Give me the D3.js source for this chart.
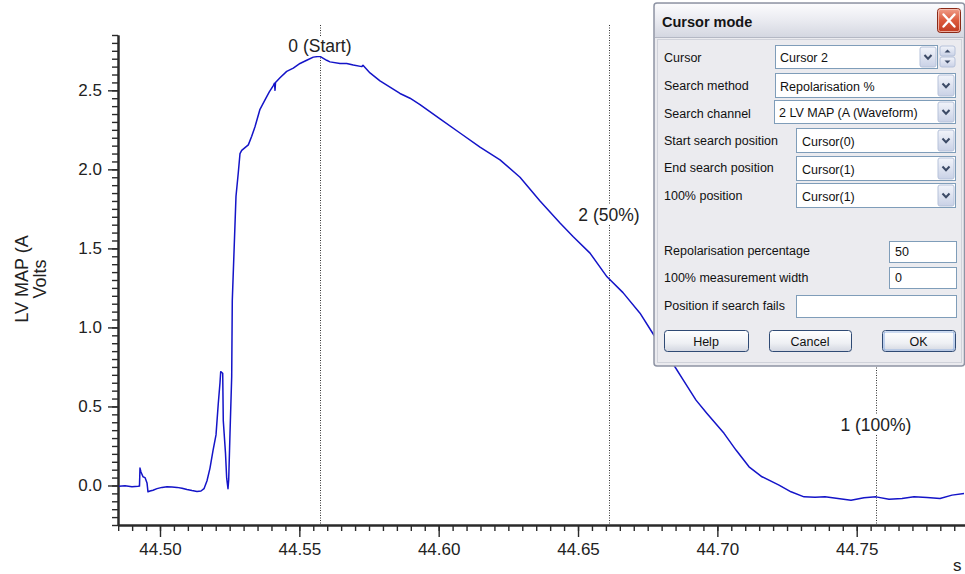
<!DOCTYPE html>
<html><head><meta charset="utf-8">
<script src="https://cdn.jsdelivr.net/npm/d3@7"></script>
<style>
html,body{margin:0;padding:0;background:#fff;}
svg{display:block;font-family:Arial,"Liberation Sans",sans-serif;}
</style></head><body>
<svg id="chart" width="965" height="574"></svg>
<script>
// ---------- data ----------
const timeValues = [
44.48493,44.48744,44.48995,44.49211,44.49264,44.49282,44.49318,44.49390,44.49462,44.49534,
44.49569,44.49641,44.49749,44.49892,44.50072,44.50251,44.50431,44.50610,44.50789,44.50969,
44.51148,44.51328,44.51471,44.51579,44.51687,44.51794,44.51902,44.52010,44.52092,44.52153,
44.52178,44.52250,44.52271,44.52350,44.52393,44.52440,44.52465,44.52512,44.52573,44.52594,
44.52727,44.52810,44.52871,44.52932,44.53169,44.53291,44.53409,44.53588,44.53768,44.53922,
44.54066,44.54109,44.54127,44.54145,44.54306,44.54547,44.54783,44.55024,44.55264,44.55501,
44.55741,44.55982,44.56100,44.56459,44.56700,44.56936,44.57238,44.57284,44.57536,44.57894,
44.58612,44.58971,44.59330,44.60048,44.60765,44.61483,44.62201,44.62918,44.63636,44.64354,
44.64820,44.65430,44.66040,44.66614,44.67224,44.67691,44.68408,44.68767,44.69234,44.69628,
44.70239,44.70669,44.71136,44.71602,44.72212,44.72643,44.73109,44.73504,44.73863,44.74329,
44.74796,44.75262,44.75693,44.76159,44.76626,44.77057,44.77523,44.77990,44.78420,44.78851];
const voltValues = [
-0.005,-0.002,-0.008,-0.005,-0.004,0.110,0.085,0.055,0.050,0.016,
-0.040,-0.035,-0.030,-0.020,-0.012,-0.008,-0.010,-0.012,-0.017,-0.025,
-0.032,-0.038,-0.035,-0.020,0.030,0.110,0.220,0.320,0.520,0.650,
0.720,0.710,0.410,0.205,0.046,-0.020,0.035,0.330,0.690,1.170,
1.830,1.980,2.100,2.120,2.155,2.210,2.270,2.380,2.440,2.490,
2.530,2.545,2.500,2.550,2.580,2.620,2.640,2.670,2.690,2.710,
2.715,2.690,2.680,2.670,2.670,2.660,2.650,2.658,2.610,2.560,
2.480,2.450,2.410,2.320,2.230,2.140,2.060,1.950,1.800,1.660,
1.575,1.470,1.320,1.220,1.090,0.960,0.770,0.670,0.540,0.456,
0.330,0.224,0.118,0.055,0.002,-0.040,-0.072,-0.075,-0.072,-0.082,
-0.093,-0.078,-0.072,-0.087,-0.082,-0.072,-0.076,-0.082,-0.061,-0.050];

const cursorNames = ["0 (Start)", "2 (50%)", "1 (100%)"];
const cursorTimes = [44.5574, 44.6611, 44.7569];

const xMajorTicks = [44.50, 44.55, 44.60, 44.65, 44.70, 44.75];
const xTickLabels = ["44.50", "44.55", "44.60", "44.65", "44.70", "44.75"];
const yMajorTicks = [0, 0.5, 1.0, 1.5, 2.0, 2.5];
const yTickLabels = ["0.0", "0.5", "1.0", "1.5", "2.0", "2.5"];
const xDomain = [44.48493, 44.78886];
const yDomain = [-0.25, 2.85];
const yLabelLines = ["LV MAP (A", "Volts"];
const xUnit = "s";

const dialogTitle = "Cursor mode";
const comboLabels = ["Cursor", "Search method", "Search channel", "Start search position", "End search position", "100% position"];
const comboValues = ["Cursor 2", "Repolarisation %", "2 LV MAP (A (Waveform)", "Cursor(0)", "Cursor(1)", "Cursor(1)"];
const fieldLabels = ["Repolarisation percentage", "100% measurement width", "Position if search fails"];
const fieldValues = ["50", "0", ""];
const buttonLabels = ["Help", "Cancel", "OK"];

// ---------- layout ----------
const W = 965, H = 574;
const pL = 118, pR = 965, pT = 35, pB = 525;
const svg = d3.select("#chart");
svg.append("rect").attr("width", W).attr("height", H).attr("fill", "#fff");

const x = d3.scaleLinear().domain(xDomain).range([pL, pR]);
const y = d3.scaleLinear().domain(yDomain).range([pB, pT]);

const xMinor = d3.range(0, 61).map(i => +(44.485 + i * 0.005).toFixed(3)).filter(v => x(v) >= pL - 0.5 && x(v) <= pR);
const yMinor = d3.range(0, 63).map(i => +(-0.25 + i * 0.05).toFixed(2));

const axisColor = "#2a2a2a";
function styleAxis(g) {
  g.selectAll(".domain").attr("stroke", axisColor).attr("stroke-width", 2);
  g.selectAll(".tick line").attr("stroke", axisColor).attr("stroke-width", 1.4);
  g.selectAll(".tick text").attr("fill", "#222").attr("font-size", 17)
    .attr("font-family", "Arial, 'Liberation Sans', sans-serif");
}
// x axis
svg.append("g").attr("transform", `translate(0,${pB})`)
  .call(d3.axisBottom(x).tickValues(xMinor).tickSize(6).tickSizeOuter(0).tickFormat(""))
  .call(styleAxis);
svg.append("g").attr("transform", `translate(0,${pB})`)
  .call(d3.axisBottom(x).tickValues(xMajorTicks).tickSize(12).tickSizeOuter(0).tickPadding(6)
    .tickFormat((d, i) => xTickLabels[i]))
  .call(styleAxis);
// y axis
svg.append("g").attr("transform", `translate(${pL},0)`)
  .call(d3.axisLeft(y).tickValues(yMinor).tickSize(6).tickSizeOuter(0).tickFormat(""))
  .call(styleAxis);
svg.append("g").attr("transform", `translate(${pL},0)`)
  .call(d3.axisLeft(y).tickValues(yMajorTicks).tickSize(10).tickSizeOuter(0).tickPadding(6)
    .tickFormat((d, i) => yTickLabels[i]))
  .call(styleAxis);

// y label
yLabelLines.forEach((t, i) => {
  svg.append("text").attr("transform", `translate(${28 + i * 18},279) rotate(-90)`)
    .attr("text-anchor", "middle").attr("font-size", 18).attr("fill", "#222").text(t);
});
svg.append("text").attr("x", 953).attr("y", 571).attr("font-size", 17).attr("fill", "#222").text(xUnit);

// clip
svg.append("clipPath").attr("id", "plotclip").append("rect")
  .attr("x", pL + 1).attr("y", pT - 15).attr("width", pR - pL).attr("height", pB - pT + 14);

// cursors
const cursorLabelY = [52, 221, 431];
const cg = svg.append("g");
cursorTimes.forEach((t, i) => {
  cg.append("line").attr("x1", Math.round(x(t)) + 0.5).attr("x2", Math.round(x(t)) + 0.5).attr("y1", 25).attr("y2", pB - 1)
    .attr("stroke", "#333").attr("stroke-width", 1).attr("stroke-dasharray", "1,1.5");
});

// waveform
const pts = timeValues.map((t, i) => [t, voltValues[i]]);
svg.append("path").datum(pts)
  .attr("clip-path", "url(#plotclip)")
  .attr("fill", "none").attr("stroke", "#1414c8").attr("stroke-width", 1.5)
  .attr("stroke-linejoin", "round")
  .attr("d", d3.line().x(d => x(d[0])).y(d => y(d[1])));

// cursor labels
cursorTimes.forEach((t, i) => {
  const tx = svg.append("text").attr("x", x(t)).attr("y", cursorLabelY[i])
    .attr("text-anchor", "middle").attr("font-size", 17.5).attr("fill", "#222").text(cursorNames[i]);
  const bb = tx.node().getBBox();
  svg.insert("rect", () => tx.node()).attr("x", bb.x - 1).attr("y", bb.y).attr("width", bb.width + 2)
    .attr("height", bb.height).attr("fill", "#fff");
});

// ---------- dialog ----------
const defs = svg.append("defs");
function grad(id, stops) {
  const g = defs.append("linearGradient").attr("id", id).attr("x1", 0).attr("y1", 0).attr("x2", 0).attr("y2", 1);
  stops.forEach(s => g.append("stop").attr("offset", s[0]).attr("stop-color", s[1]));
}
grad("titleGrad", [[0, "#fbfbfd"], [0.5, "#e9eaf0"], [1, "#d3d6e0"]]);
grad("closeGrad", [[0, "#f0a08c"], [0.5, "#dc5a3c"], [1, "#c03a20"]]);
grad("ddGrad", [[0, "#f2f4fa"], [1, "#c9d1e6"]]);
grad("btnGrad", [[0, "#ffffff"], [0.6, "#eef0f4"], [1, "#d2d6e0"]]);

const dlg = svg.append("g").attr("font-family", "Arial, 'Liberation Sans', sans-serif");
const dx0 = 654, dy0 = 3, dx1 = 964.5, dy1 = 366;
dlg.append("rect").attr("x", dx0).attr("y", dy0).attr("width", dx1 - dx0).attr("height", dy1 - dy0)
  .attr("fill", "#ebebef").attr("stroke", "#8e94a4").attr("stroke-width", 1.5).attr("rx", 3);
dlg.append("rect").attr("x", dx0 + 1).attr("y", dy0 + 1).attr("width", dx1 - dx0 - 2).attr("height", 34)
  .attr("fill", "url(#titleGrad)").attr("rx", 2);
dlg.append("line").attr("x1", dx0 + 1).attr("x2", dx1 - 1).attr("y1", 37.5).attr("y2", 37.5).attr("stroke", "#b4b8c4");
dlg.append("rect").attr("x", 657.5).attr("y", 39.5).attr("width", 304).attr("height", 323)
  .attr("fill", "none").attr("stroke", "#d0d2da");
dlg.append("text").attr("x", 662).attr("y", 27).attr("font-size", 14.5).attr("font-weight", "bold")
  .attr("fill", "#151515").text(dialogTitle);
// close button
dlg.append("rect").attr("x", 937.5).attr("y", 8.5).attr("width", 23).attr("height", 24).attr("rx", 3)
  .attr("fill", "url(#closeGrad)").attr("stroke", "#8a2a18");
dlg.append("rect").attr("x", 938.5).attr("y", 9.5).attr("width", 21).attr("height", 22).attr("rx", 2)
  .attr("fill", "none").attr("stroke", "#f6c8bc").attr("stroke-width", 0.8);
dlg.append("path").attr("d", "M943.5,14.5 L954.5,26.5 M954.5,14.5 L943.5,26.5")
  .attr("stroke", "#fff").attr("stroke-width", 2.4).attr("stroke-linecap", "round");

function ddButton(bx, by, bw, bh) {
  dlg.append("rect").attr("x", bx).attr("y", by).attr("width", bw).attr("height", bh).attr("rx", 2)
    .attr("fill", "url(#ddGrad)").attr("stroke", "#b6c2da");
  const cx = bx + bw / 2, cy = by + bh / 2;
  dlg.append("path").attr("d", `M${cx - 3.5},${cy - 2} L${cx},${cy + 1.8} L${cx + 3.5},${cy - 2}`)
    .attr("fill", "none").attr("stroke", "#3c4a66").attr("stroke-width", 2);
}
function combo(xa, ya, xb, yb, val, tx) {
  dlg.append("rect").attr("x", xa + 0.5).attr("y", ya + 0.5).attr("width", xb - xa).attr("height", yb - ya)
    .attr("fill", "#fff").attr("stroke", "#7f9db9");
  ddButton(xb - 17, ya + 2, 16, yb - ya - 3);
  dlg.append("text").attr("x", tx).attr("y", yb - 6.5).attr("font-size", 12.5).attr("fill", "#111").text(val);
}
function field(xa, ya, xb, yb, val) {
  dlg.append("rect").attr("x", xa + 0.5).attr("y", ya + 0.5).attr("width", xb - xa).attr("height", yb - ya)
    .attr("fill", "#fff").attr("stroke", "#7f9db9");
  dlg.append("text").attr("x", xa + 6).attr("y", yb - 6).attr("font-size", 12.5).attr("fill", "#111").text(val);
}
function label(t, by) {
  dlg.append("text").attr("x", 664).attr("y", by).attr("font-size", 12.5).attr("fill", "#111").text(t);
}

const comboRows = [
  {by: 62, box: [775, 45, 937, 68], tx: 780},
  {by: 90, box: [775, 73, 955, 97], tx: 780},
  {by: 118, box: [774, 100, 955, 123], tx: 779},
  {by: 145, box: [796, 128, 955, 152], tx: 802},
  {by: 172, box: [796, 156, 955, 180], tx: 802},
  {by: 200, box: [796, 183, 955, 207], tx: 802}
];
comboRows.forEach((r, i) => {
  label(comboLabels[i], r.by);
  combo(r.box[0], r.box[1], r.box[2], r.box[3], comboValues[i], r.tx);
});
// spin buttons
[[940, 46, 10], [940, 57, 10]].forEach((s, i) => {
  dlg.append("rect").attr("x", s[0]).attr("y", s[1]).attr("width", 15).attr("height", s[2]).attr("rx", 2)
    .attr("fill", "url(#ddGrad)").attr("stroke", "#b6c2da");
  const cx = s[0] + 7.5, cy = s[1] + s[2] / 2;
  const d = i === 0 ? `M${cx - 3},${cy + 1.5} L${cx},${cy - 1.5} L${cx + 3},${cy + 1.5}Z`
                    : `M${cx - 3},${cy - 1.5} L${cx},${cy + 1.5} L${cx + 3},${cy - 1.5}Z`;
  dlg.append("path").attr("d", d).attr("fill", "#3c4a66");
});

const fieldRows = [
  {by: 255, box: [889, 241, 956, 262]},
  {by: 282, box: [889, 267, 956, 288]},
  {by: 310, box: [796, 295, 956, 317]}
];
fieldRows.forEach((r, i) => {
  label(fieldLabels[i], r.by);
  field(r.box[0], r.box[1], r.box[2], r.box[3], fieldValues[i]);
});

const btnBoxes = [[664, 748], [769, 851], [882, 955]];
btnBoxes.forEach((b, i) => {
  dlg.append("rect").attr("x", b[0] + 0.5).attr("y", 330.5).attr("width", b[1] - b[0]).attr("height", 21).attr("rx", 3)
    .attr("fill", "url(#btnGrad)").attr("stroke", "#2f4a74");
  if (i === 2) {
    dlg.append("rect").attr("x", b[0] + 2).attr("y", 332).attr("width", b[1] - b[0] - 3).attr("height", 18).attr("rx", 2)
      .attr("fill", "none").attr("stroke", "#9cb8e4").attr("stroke-width", 1.2);
  }
  dlg.append("text").attr("x", (b[0] + b[1]) / 2).attr("y", 345.5).attr("text-anchor", "middle")
    .attr("font-size", 12.5).attr("fill", "#111").text(buttonLabels[i]);
});
</script>
</body></html>
